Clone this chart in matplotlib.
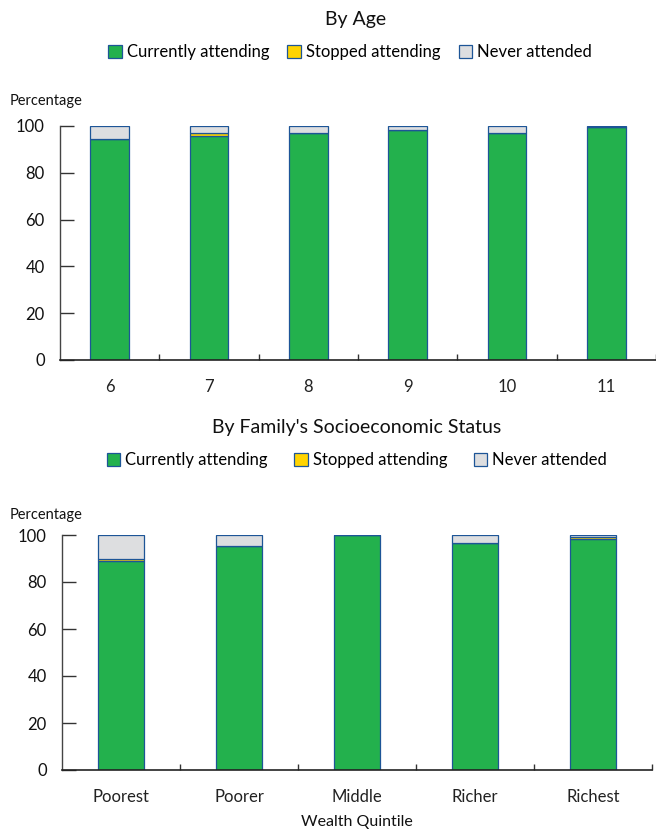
import matplotlib
matplotlib.use("Agg")
import matplotlib.pyplot as plt
from matplotlib.patches import Patch
import numpy as np

plt.rcParams['font.family'] = ['Lato', 'DejaVu Sans']

# Data
ages = ["6", "7", "8", "9", "10", "11"]
age_current = [94.3, 95.9, 96.9, 98.2, 97.0, 99.6]
age_stopped = [0.0, 1.3, 0.0, 0.0, 0.0, 0.0]
age_never = [5.7, 2.8, 3.1, 1.8, 3.0, 0.4]

quintiles = ["Poorest", "Poorer", "Middle", "Richer", "Richest"]
q_current = [88.9, 95.4, 99.8, 96.5, 98.4]
q_stopped = [0.9, 0.0, 0.0, 0.0, 0.6]
q_never = [10.2, 4.6, 0.2, 3.5, 1.0]

series_names = ["Currently attending", "Stopped attending", "Never attended"]
colors = ["#23B14D", "#FFD400", "#DDDEE0"]
edge = "#1D5597"

fig = plt.figure(figsize=(6.56, 8.31), dpi=100)


def draw(ax, cats, cur, stp, nev):
    x = np.arange(len(cats))
    w = 0.39
    ax.bar(x, cur, w, color=colors[0], edgecolor=edge, linewidth=0.9)
    ax.bar(x, stp, w, bottom=cur, color=colors[1], edgecolor=edge, linewidth=0.9)
    bottoms = np.array(cur) + np.array(stp)
    ax.bar(x, nev, w, bottom=bottoms, color=colors[2], edgecolor=edge, linewidth=0.9)
    ax.set_xlim(-0.5, len(cats) - 0.5)
    ax.set_ylim(0, 100)
    ax.set_yticks([0, 20, 40, 60, 80, 100])
    ax.set_xticks(x)
    ax.set_xticklabels(cats, fontsize=12, color="#222222")
    ax.set_xticks(np.arange(len(cats)) + 0.5, minor=True)
    ax.tick_params(axis='x', which='major', length=0, pad=14)
    ax.tick_params(axis='x', which='minor', direction='in', length=4, width=1, color="#333333")
    ax.tick_params(axis='y', direction='in', length=10, width=1, color="#333333",
                   labelsize=12, pad=11, labelcolor="#111111")
    for s in ['top', 'right']:
        ax.spines[s].set_visible(False)
    ax.spines['left'].set_color("#444444")
    ax.spines['bottom'].set_color("#222222")
    ax.spines['left'].set_linewidth(1)
    ax.spines['bottom'].set_linewidth(1.2)


ax1 = fig.add_axes([60 / 656, 1 - 360 / 831, 596 / 656, 234 / 831])
draw(ax1, ages, age_current, age_stopped, age_never)
ax2 = fig.add_axes([62 / 656, 1 - 770 / 831, 590 / 656, 235 / 831])
draw(ax2, quintiles, q_current, q_stopped, q_never)

handles = [Patch(facecolor=c, edgecolor=edge, linewidth=0.9) for c in colors]

fig.text(356 / 656, 1 - 20 / 831, "By Age", ha='center', va='center', fontsize=14, color="#111111")
fig.legend(handles, series_names, loc='center', bbox_to_anchor=(350 / 656, 1 - 52 / 831),
           ncol=3, frameon=False, fontsize=12, handlelength=0.8, handleheight=0.8,
           handletextpad=0.3, columnspacing=1.1)
fig.text(10 / 656, 1 - 101 / 831, "Percentage", ha='left', va='center', fontsize=10.5, color="#111111")

fig.text(357 / 656, 1 - 427 / 831, "By Family's Socioeconomic Status", ha='center', va='center',
         fontsize=14, color="#111111")
fig.legend(handles, series_names, loc='center', bbox_to_anchor=(357 / 656, 1 - 460 / 831),
           ncol=3, frameon=False, fontsize=12, handlelength=0.8, handleheight=0.8,
           handletextpad=0.3, columnspacing=1.6)
fig.text(10 / 656, 1 - 515 / 831, "Percentage", ha='left', va='center', fontsize=10.5, color="#111111")
fig.text(357 / 656, 1 - 822 / 831, "Wealth Quintile", ha='center', va='center', fontsize=11.5, color="#111111")

fig.savefig("out.png", dpi=100)
